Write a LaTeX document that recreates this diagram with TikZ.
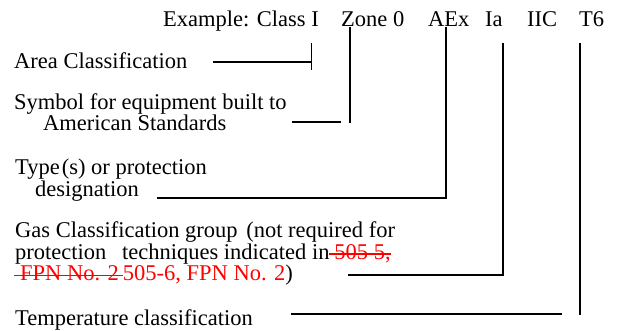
\documentclass[tikz,border=0pt]{standalone}
\usepackage{fontspec}
\setmainfont{Liberation Serif}
\newsavebox\strkbox
\newcommand\strk[1]{\sbox\strkbox{#1}\rlap{\usebox\strkbox}\rule[4.4pt]{\wd\strkbox}{1.6pt}}
\begin{document}
\begin{tikzpicture}[x=1pt,y=-1pt,
  lbl/.style={inner sep=0pt,anchor=base west,align=left,font=\fontsize{22.5}{19.5}\selectfont},
  conn/.style={line width=1.9pt,black}]
\useasboundingbox (0,0) rectangle (623,331);
% title pieces
\node[lbl] (title) at (163,26.5) {Example: Class I};
\node[lbl] (zone) at (341,26.5) {Zone 0};
\node[lbl] (aex) at (428,26.5) {AEx};
\node[lbl] (ia) at (485,26.5) {Ia};
\node[lbl] (iic) at (527,26.5) {IIC};
\node[lbl] (t6) at (579,26.5) {T6};
% labels (anchor = baseline of the last line)
\node[lbl] (area) at (14,69) {Area Classification};
\node[lbl,font=\fontsize{22.5}{19}\selectfont] (sym) at (14,131)
  {Symbol for equipment built to\\\hspace*{29pt}American Standards};
\node[lbl] (type) at (15,196)
  {Type\kern2pt(s) or protection\\\hspace*{20pt}designation};
\node[lbl,font=\fontsize{22.5}{20.25}\selectfont] (gas) at (15,280.5)
  {Gas Classification group\kern3pt{} (not required for\\
   protection\kern10pt{} techniques indicated in{\color{red}\strk{\hspace*{5pt}505 5,}}\\
   \hspace*{-1pt}{\color{red}\strk{\hspace*{6pt}FPN No. 2\hspace*{4pt}}505-6, FPN No. 2})};
\node[lbl] (temp) at (15,325) {Temperature classification};
% connector points
\coordinate (a1) at (213,62.3);  \coordinate (a2) at (311.5,62.3);
\coordinate (a3) at (311.5,43.3); \coordinate (a4) at (311.5,70);
\coordinate (s1) at (292,122.3); \coordinate (s2) at (341,122.3);
\coordinate (s3) at (350,26.7);  \coordinate (s4) at (350,123.2);
\coordinate (t1) at (157,197.7); \coordinate (t2) at (446,197.7);
\coordinate (t3) at (446,26.7);  \coordinate (t4) at (446,198.6);
\coordinate (g1) at (348,275);   \coordinate (g2) at (503,275);
\coordinate (g3) at (503,43.3);  \coordinate (g4) at (503,275.9);
\coordinate (p1) at (291,314);   \coordinate (p2) at (562,314);
\coordinate (p3) at (580,43.3);  \coordinate (p4) at (580,315);
% connectors
\draw[conn] (a1) -- (a2);
\draw[conn] (a3) -- (a4);
\draw[conn] (s1) -- (s2);
\draw[conn] (s3) -- (s4);
\draw[conn] (t1) -- (t2);
\draw[conn] (t3) -- (t4);
\draw[conn] (g1) -- (g2);
\draw[conn] (g3) -- (g4);
\draw[conn] (p1) -- (p2);
\draw[conn] (p3) -- (p4);
\end{tikzpicture}
\end{document}
